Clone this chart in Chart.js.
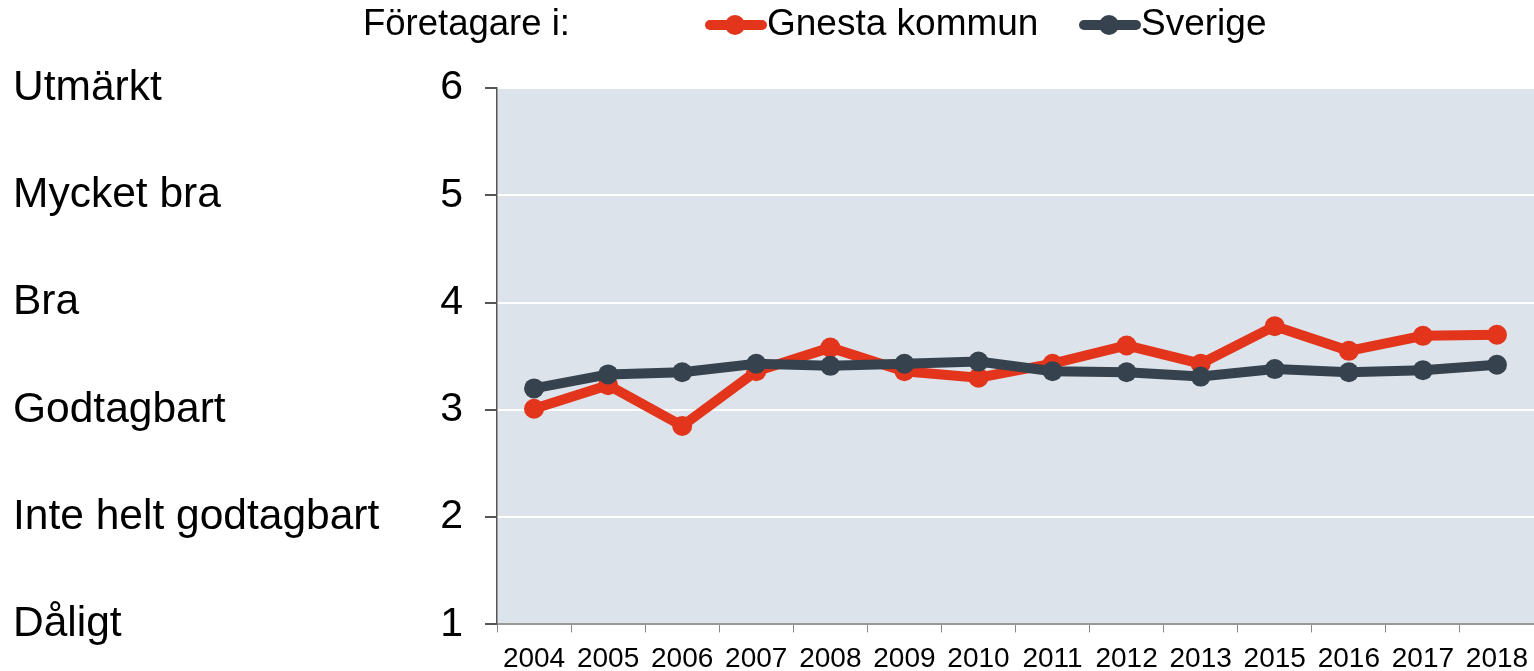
<!DOCTYPE html>
<html>
<head>
<meta charset="utf-8">
<script src="https://cdn.jsdelivr.net/npm/chart.js@4"></script>
<style>
  body { margin: 0; background: #fff; }
  #wrap { width: 1534px; height: 671px; position: relative; }
</style>
</head>
<body>
<div id="wrap"><canvas id="chart"></canvas></div>
<script>
const years = ["2004", "2005", "2006", "2007", "2008", "2009", "2010", "2011", "2012", "2013", "2015", "2016", "2017", "2018"];
const gnesta = [3.01, 3.23, 2.85, 3.36, 3.58, 3.36, 3.30, 3.43, 3.60, 3.43, 3.78, 3.55, 3.69, 3.70];
const sverige = [3.20, 3.33, 3.35, 3.43, 3.41, 3.43, 3.45, 3.36, 3.35, 3.31, 3.38, 3.35, 3.37, 3.42];
const gradeLabels = ["", "Dåligt", "Inte helt godtagbart", "Godtagbart", "Bra", "Mycket bra", "Utmärkt"];
const legendTitle = "Företagare i:";

const FONT = "'Liberation Sans', Arial, sans-serif";
const RED = "#e2351b";
const DARK = "#36434f";

// Fill the plot area and draw the legend row on top
const plotBackground = {
  id: "plotBackground",
  beforeDraw(chart) {
    const { ctx, chartArea: a } = chart;
    ctx.save();
    ctx.fillStyle = "#dde3ea";
    ctx.fillRect(a.left, a.top, a.right - a.left, a.bottom - a.top);
    ctx.restore();
  }
};

const topLegend = {
  id: "topLegend",
  afterDraw(chart) {
    const ctx = chart.ctx;
    const y = 25;
    ctx.save();
    ctx.textBaseline = "middle";
    ctx.fillStyle = "#000";
    ctx.font = "36.5px " + FONT;
    ctx.fillText(legendTitle, 363, y);

    ctx.font = "37px " + FONT;
    const items = [
      { label: chart.data.datasets[0].label, color: chart.data.datasets[0].borderColor, x: 705 },
      { label: chart.data.datasets[1].label, color: chart.data.datasets[1].borderColor, x: 1079 }
    ];
    items.forEach(it => {
      ctx.strokeStyle = it.color;
      ctx.lineWidth = 10;
      ctx.lineCap = "round";
      ctx.beginPath();
      ctx.moveTo(it.x + 5, y);
      ctx.lineTo(it.x + 57, y);
      ctx.stroke();
      ctx.fillStyle = it.color;
      ctx.beginPath();
      ctx.arc(it.x + 30, y, 10, 0, Math.PI * 2);
      ctx.fill();
      ctx.fillStyle = "#000";
      ctx.fillText(it.label, it.x + 62, y);
    });
    ctx.restore();
  }
};

const ctx = document.getElementById("chart").getContext("2d");
new Chart(ctx, {
  type: "line",
  data: {
    labels: years,
    datasets: [
      {
        label: "Gnesta kommun",
        data: gnesta,
        borderColor: RED,
        backgroundColor: RED,
        borderWidth: 10,
        pointRadius: 10,
        pointHoverRadius: 10,
        pointBorderWidth: 0,
        tension: 0,
        order: 2
      },
      {
        label: "Sverige",
        data: sverige,
        borderColor: DARK,
        backgroundColor: DARK,
        borderWidth: 10,
        pointRadius: 10,
        pointHoverRadius: 10,
        pointBorderWidth: 0,
        tension: 0,
        order: 1
      }
    ]
  },
  options: {
    responsive: true,
    maintainAspectRatio: false,
    animation: false,
    layout: { autoPadding: false, padding: { top: 88, left: 13, right: 0, bottom: 0 } },
    plugins: {
      legend: { display: false },
      tooltip: { enabled: false }
    },
    scales: {
      x: {
        offset: true,
        grid: {
          offset: true,
          drawOnChartArea: false,
          drawTicks: true,
          tickLength: 8,
          tickColor: "#888"
        },
        border: { color: "#999", width: 2 },
        ticks: {
          color: "#000",
          font: { family: FONT, size: 28 },
          padding: 10,
          maxRotation: 0,
          autoSkip: false
        },
        afterFit(scale) {
          scale.height = 45;
          scale.paddingLeft = 0;
          scale.paddingRight = 0;
        }
      },
      y: {
        min: 1,
        max: 6,
        weight: 0,
        grid: {
          color: "#ffffff",
          lineWidth: 2,
          tickColor: "#555",
          tickLength: 12
        },
        border: { color: "#555", width: 1.5 },
        ticks: {
          stepSize: 1,
          color: "#000",
          font: { family: FONT, size: 41 },
          padding: 22
        },
        afterFit(scale) { scale.width = 57; }
      },
      grade: {
        type: "linear",
        position: "left",
        min: 1,
        max: 6,
        weight: 1,
        grid: { display: false, drawTicks: false },
        border: { display: false },
        ticks: {
          stepSize: 1,
          crossAlign: "far",
          color: "#000",
          font: { family: FONT, size: 42.5 },
          callback: v => gradeLabels[v]
        },
        afterFit(scale) { scale.width = 427; }
      }
    }
  },
  plugins: [plotBackground, topLegend]
});
</script>
</body>
</html>
